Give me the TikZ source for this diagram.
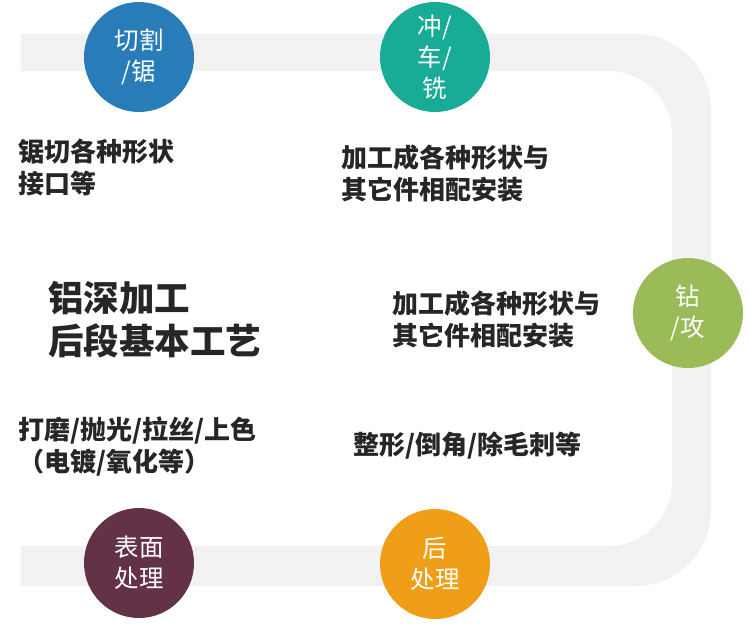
\documentclass[tikz,border=0pt]{standalone}
\usepackage{fontspec}
\newfontfamily\cjk{Noto Sans CJK SC}
\definecolor{track}{RGB}{242,242,242}
\definecolor{cblue}{RGB}{40,125,185}
\definecolor{cteal}{RGB}{24,171,150}
\definecolor{cgreen}{RGB}{155,187,89}
\definecolor{cmaroon}{RGB}{99,50,71}
\definecolor{corange}{RGB}{240,158,24}
\definecolor{txt}{RGB}{38,38,38}
\tikzset{
  stepcircle/.style={circle, minimum size=110pt, inner sep=0pt, text=white, align=center,
    font=\cjk\fontsize{24.5}{31}\selectfont},
  lbl/.style={anchor=west, inner sep=0pt, align=left, text=txt,
    font=\cjk\bfseries\fontsize{26}{32}\selectfont},
  biglbl/.style={anchor=west, inner sep=0pt, align=left, text=txt,
    font=\cjk\bfseries\fontsize{35.5}{43}\selectfont}
}
\begin{document}
\begin{tikzpicture}[x=1pt,y=-1pt]
\useasboundingbox (0,0) rectangle (749,633);
% track
\fill[track] (21,34) -- (636,34) .. controls (677.4,34) and (711,67.6) .. (711,109)
  -- (711,511) .. controls (711,552.4) and (677.4,586) .. (636,586)
  -- (21,586) -- (21,546) -- (608,546) .. controls (643.3,546) and (672,517.7) .. (672,482)
  -- (672,135) .. controls (672,99.7) and (643.3,71) .. (608,71) -- (21,71) -- cycle;
% circles
\node[stepcircle, fill=cblue] (c1) at (139,57) {切割\\/锯};
\node[stepcircle, fill=cteal] (c2) at (435,57) {冲/\\车/\\铣};
\node[stepcircle, fill=cgreen] (c3) at (688,313) {钻\\/攻};
\node[stepcircle, fill=corange] (c4) at (435,564) {后\\处理};
\node[stepcircle, fill=cmaroon] (c5) at (139,563) {表面\\处理};
% labels
\node[lbl] (t1) at (18,167) {锯切各种形状\\接口等};
\node[lbl] (t2) at (341,174) {加工成各种形状与\\其它件相配安装};
\node[lbl] (t3) at (392,319.5) {加工成各种形状与\\其它件相配安装};
\node[lbl] (t4) at (353,446) {整形/倒角/除毛刺等};
\node[lbl] (t5) at (18,446.5) {打磨/抛光/拉丝/上色\\（电镀/氧化等）};
\node[biglbl] (t6) at (48,320) {铝深加工\\后段基本工艺};
\end{tikzpicture}
\end{document}
